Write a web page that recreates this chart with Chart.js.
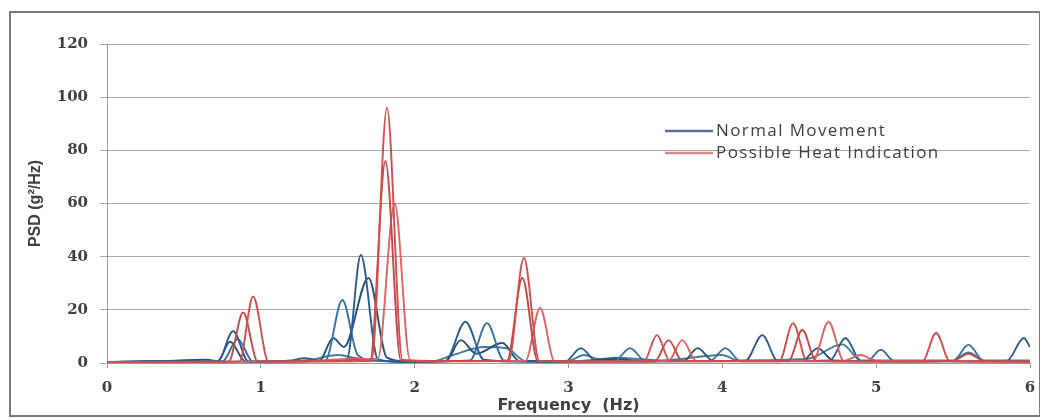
<!DOCTYPE html>
<html>
<head>
<meta charset="utf-8">
<script src="https://cdn.jsdelivr.net/npm/chart.js@4.4.1/dist/chart.umd.min.js"></script>
<style>
  html, body { margin: 0; padding: 0; background: #fff; }
  #wrap { width: 1040px; height: 419px; }
</style>
</head>
<body>
<div id="wrap"><canvas id="psdChart" width="1040" height="419"></canvas></div>
<script>
// Series names shown in the legend
const seriesLabels = ['Normal Movement', 'Possible Heat Indication'];
const xTicks = [0, 1, 2, 3, 4, 5, 6];
const yTicks = [0, 20, 40, 60, 80, 100, 120];

// Normal movement traces: [frequency Hz, PSD g^2/Hz]
const normal1 = [[0,0.3],[0.3,0.8],[0.5,0.4],[0.72,0.6],[0.82,12],[0.92,0.5],[1.2,1.0],[1.28,1.8],[1.4,0.8],[1.56,1.5],[1.65,40.6],[1.76,1.5],[1.9,0.4],[2.2,0.8],[2.33,15.5],[2.45,1.2],[2.7,0.5],[2.98,0.6],[3.08,5.6],[3.18,0.8],[3.5,0.6],[4.15,0.8],[4.26,10.5],[4.36,0.8],[4.7,1.0],[4.8,9.4],[4.9,0.8],[5.3,0.6],[5.85,0.8],[5.96,9.4],[6,6]];
const normal2 = [[0,0.2],[0.4,0.5],[0.75,0.6],[0.85,9],[0.95,0.4],[1.2,0.6],[1.42,1.0],[1.53,23.7],[1.63,3],[1.75,0.8],[2.0,0.5],[2.36,1.0],[2.47,15],[2.58,1.0],[2.9,0.4],[3.3,0.8],[3.40,5.6],[3.5,0.8],[3.92,0.8],[4.02,5.6],[4.12,0.6],[4.5,0.6],[4.94,0.6],[5.03,5],[5.12,0.6],[5.5,0.8],[5.6,6.8],[5.7,0.8],[6,0.6]];
const normal3 = [[0,0.4],[0.3,0.6],[0.65,1.2],[0.72,0.8],[0.80,8],[0.9,0.6],[1.2,0.8],[1.38,0.8],[1.47,9.4],[1.54,6],[1.70,32],[1.82,2],[1.95,0.6],[2.2,0.6],[2.30,8.6],[2.40,3.5],[2.57,7.5],[2.68,0.8],[3.0,0.6],[3.3,1.5],[3.5,0.6],[3.75,0.8],[3.84,5.6],[3.94,0.8],[4.52,0.8],[4.62,5.6],[4.72,1.0],[5.2,0.6],[6,0.8]];
const normal4 = [[0,0.3],[0.7,0.6],[1.0,0.4],[1.3,1.0],[1.5,3],[1.6,2],[1.75,1],[2.1,0.5],[2.25,3],[2.45,6],[2.6,5.5],[2.72,0.8],[3.0,0.8],[3.1,3],[3.2,1.5],[3.3,2],[3.6,1],[4.0,3],[4.1,1],[4.55,1.5],[4.78,7],[4.9,1],[5.5,1],[5.6,4],[5.7,1],[6,1]];

// Possible heat indication traces
const heat1 = [[0,0.2],[0.5,0.3],[0.86,0.5],[0.95,25],[1.05,0.5],[1.4,0.6],[1.72,0.8],[1.82,96],[1.92,1.2],[2.1,0.6],[2.61,0.8],[2.71,39.5],[2.81,0.8],[3.2,0.5],[3.49,0.6],[3.575,10.5],[3.66,0.6],[4.37,0.6],[4.46,15],[4.55,0.8],[5.0,0.6],[5.3,0.6],[5.39,11.3],[5.48,0.6],[6,0.4]];
const heat2 = [[0,0.3],[0.6,0.4],[0.79,0.5],[0.885,19],[0.98,0.5],[1.5,0.6],[1.6,1.2],[1.71,0.8],[1.81,76],[1.91,1.0],[2.2,0.8],[2.60,0.8],[2.70,32],[2.80,0.8],[3.3,0.5],[3.56,0.6],[3.65,8.6],[3.74,0.8],[4.43,0.8],[4.52,12.4],[4.61,0.8],[5.1,0.5],[5.5,0.8],[5.6,3.5],[5.7,0.8],[6,0.5]];
const heat3 = [[0,0.4],[0.7,0.5],[1.2,0.5],[1.6,1.5],[1.76,1.5],[1.87,60],[1.97,1.0],[2.3,0.8],[2.72,0.8],[2.815,20.7],[2.91,0.6],[3.4,0.6],[3.65,0.8],[3.74,8.6],[3.83,0.8],[4.3,0.8],[4.59,0.8],[4.69,15.5],[4.79,0.8],[4.9,3],[5.0,0.8],[6,0.6]];

const blues = ['#2d5c8c', '#3a6ea5', '#2a4e78', '#3f7f9c'];
const reds = ['#cf4f4e', '#c44848', '#dd6464'];
const legendColors = ['#56729a', '#d98a8a'];

function toPoints(arr) {
    return arr.map(p => ({ x: p[0], y: p[1] }));
}

function trace(arr, label, color) {
    return {
        label: label,
        data: toPoints(arr),
        borderColor: color,
        backgroundColor: color,
        borderWidth: 1.9,
        pointRadius: 0,
        fill: false,
        cubicInterpolationMode: 'monotone'
    };
}

// red first so it sits on top of the blue traces
const datasets = [
    trace(heat1, seriesLabels[1], reds[0]),
    trace(heat2, seriesLabels[1], reds[1]),
    trace(heat3, seriesLabels[1], reds[2]),
    trace(normal1, seriesLabels[0], blues[0]),
    trace(normal2, seriesLabels[0], blues[1]),
    trace(normal3, seriesLabels[0], blues[2]),
    trace(normal4, seriesLabels[0], blues[3])
];

// frame around the whole figure + legend inside the plot
const framePlugin = {
    id: 'frame',
    beforeDraw(chart) {
        const ctx = chart.ctx;
        ctx.save();
        ctx.fillStyle = '#fff';
        ctx.fillRect(0, 0, chart.width, chart.height);
        ctx.strokeStyle = '#7a7a7a';
        ctx.lineWidth = 2;
        ctx.strokeRect(10, 12, 1030, 404);
        ctx.restore();
    },
    afterDraw(chart) {
        const ctx = chart.ctx;
        const x0 = 665;
        const ys = [131, 153];
        ctx.save();
        ctx.font = '17px "Open Sans"';
        ctx.letterSpacing = '1.4px';
        ctx.textBaseline = 'middle';
        seriesLabels.forEach((lab, i) => {
            ctx.strokeStyle = legendColors[i];
            ctx.lineWidth = 2.5;
            ctx.beginPath();
            ctx.moveTo(x0, ys[i]);
            ctx.lineTo(x0 + 48, ys[i]);
            ctx.stroke();
            ctx.fillStyle = '#404040';
            ctx.fillText(lab, x0 + 51, ys[i]);
        });
        ctx.restore();
    }
};

new Chart(document.getElementById('psdChart').getContext('2d'), {
    type: 'line',
    data: { datasets: datasets },
    plugins: [framePlugin],
    options: {
        responsive: false,
        animation: false,
        devicePixelRatio: 1,
        layout: { padding: { left: 0, top: 44, right: 10, bottom: 0 } },
        plugins: {
            legend: { display: false },
            tooltip: { enabled: false }
        },
        scales: {
            x: {
                type: 'linear',
                min: 0,
                max: 6,
                afterFit: s => { s.height = 56; s.paddingLeft = 0; s.paddingRight = 0; },
                afterBuildTicks: s => { s.ticks = xTicks.map(v => ({ value: v })); },
                grid: { drawOnChartArea: false, drawTicks: true, tickLength: 5, color: '#9a9a9a' },
                border: { display: true, color: '#9a9a9a', width: 1 },
                ticks: {
                    padding: 11,
                    color: '#404040',
                    font: { family: '"DejaVu Serif"', size: 15, weight: 'bold' }
                },
                title: {
                    display: true,
                    text: 'Frequency  (Hz)',
                    color: '#404040',
                    padding: { top: 0, bottom: 4 },
                    font: { family: '"DejaVu Sans"', size: 16, weight: 'bold' }
                }
            },
            y: {
                min: 0,
                max: 120,
                afterFit: s => { s.width = 107; },
                afterBuildTicks: s => { s.ticks = yTicks.map(v => ({ value: v })); },
                grid: { color: '#a6a6a6', tickLength: 7, lineWidth: 1 },
                border: { display: true, color: '#9a9a9a', width: 1 },
                ticks: {
                    padding: 12,
                    color: '#404040',
                    font: { family: '"DejaVu Serif"', size: 15, weight: 'bold' }
                },
                title: {
                    display: true,
                    text: 'PSD (g²/Hz)',
                    color: '#404040',
                    padding: { top: 26, bottom: 0 },
                    font: { family: '"Liberation Sans"', size: 16, weight: 'bold' }
                }
            }
        }
    }
});
</script>
</body>
</html>
